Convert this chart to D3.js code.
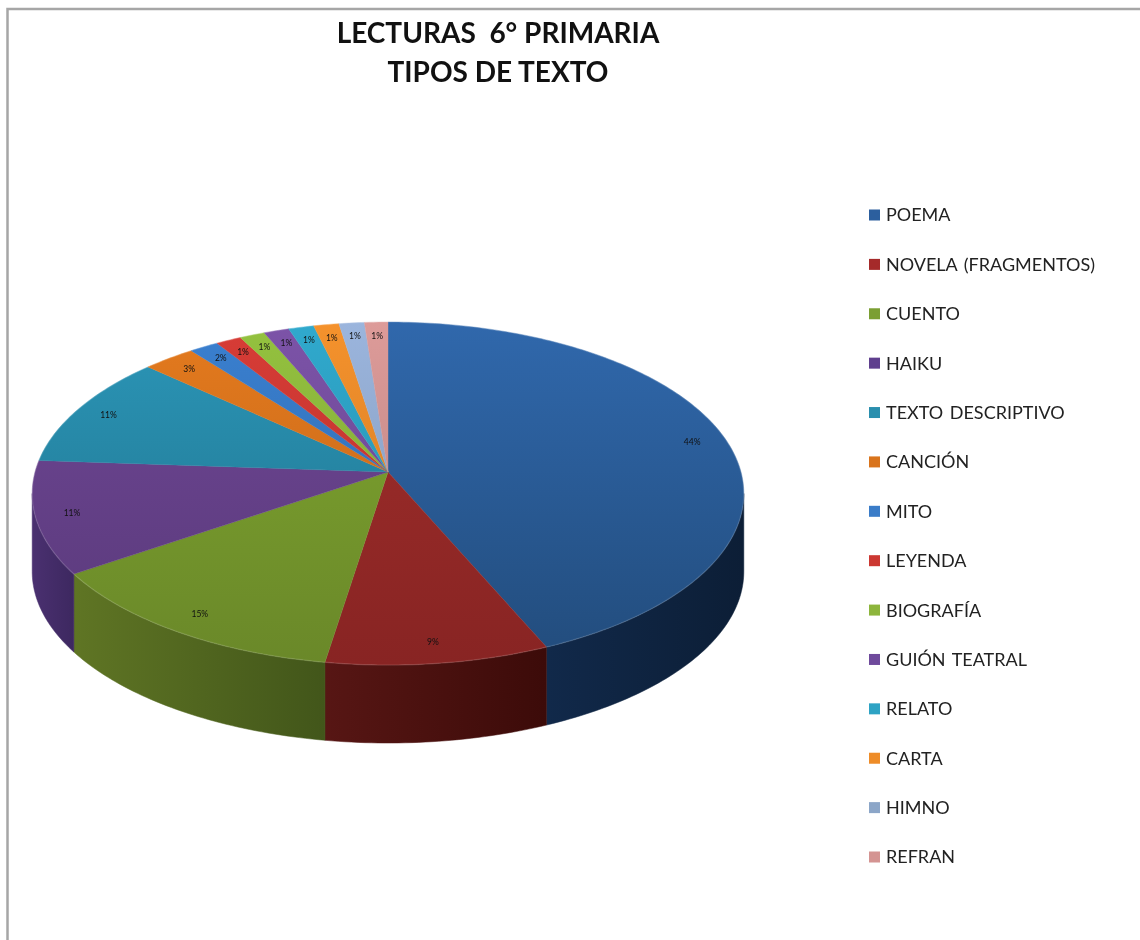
<!DOCTYPE html>
<html>
<head>
<meta charset="UTF-8" />
<title>Lecturas 6° primaria</title>
<script src="https://d3js.org/d3.v7.min.js"></script>
<style>
html, body { margin: 0; padding: 0; background: #fff; overflow: hidden; }
svg { display: block; filter: blur(0.6px); }
text { font-family: Lato, "Open Sans", sans-serif; }
</style>
</head>
<body>
<svg id="chart" width="1140" height="940"></svg>
<script>
var categories = ["POEMA", "NOVELA (FRAGMENTOS)", "CUENTO", "HAIKU", "TEXTO DESCRIPTIVO", "CANCIÓN", "MITO", "LEYENDA", "BIOGRAFÍA", "GUIÓN TEATRAL", "RELATO", "CARTA", "HIMNO", "REFRAN"];
// slice sizes as measured on the picture
var values = [43.5, 9, 13, 10.6, 10.7, 2.7, 1.5, 1.3, 1.3, 1.3, 1.3, 1.3, 1.3, 1.2];
// labels as printed, they do not add up exactly to the drawn sizes
var labels = ["44%", "9%", "15%", "11%", "11%", "3%", "2%", "1%", "1%", "1%", "1%", "1%", "1%", "1%"];
var titleLines = ["LECTURAS  6° PRIMARIA", "TIPOS DE TEXTO"];

var topColors = ["#3068ac", "#a02e2b", "#7fa62f", "#6f4795", "#2b96b8", "#e47a1e", "#3a80d0", "#d83c36", "#94c23f", "#7c53a8", "#30a9cd", "#f5922c", "#9bb5dd", "#dd9b99"];
var bottomColors = ["#224c7c", "#882423", "#6a8829", "#59397a", "#1f7089", "#bd6418", "#2e66a8", "#b0302c", "#7a9e33", "#654388", "#268aa8", "#c87624", "#7e94b4", "#b47e7c"];
var sideLeft = ["#11294a", "#571614", "#5f7524", "#4a3070"];
var sideRight = ["#0c1e36", "#3c0b09", "#42561a", "#3d2860"];
var legendColors = ["#2c5f9e", "#a52a2a", "#7b9f33", "#5f3f8e", "#2a8fae", "#d9741c", "#3a7cc8", "#cc3832", "#8db53c", "#6f4a9c", "#2ea3c4", "#ee8c28", "#8ca6c8", "#d49492"];

var svg = d3.select("#chart");
var defs = svg.append("defs");

// chart frame
svg.append("path")
  .attr("d", "M7.5,940V9H1140")
  .attr("fill", "none")
  .attr("stroke", "#a6a6a6")
  .attr("stroke-width", 2.5);

// title
svg.append("g").selectAll("text").data(titleLines).enter().append("text")
  .attr("x", 498)
  .attr("y", function(d, i) { return 43 + i * 39; })
  .attr("text-anchor", "middle")
  .style("white-space", "pre")
  .attr("font-size", 28)
  .attr("font-weight", 700)
  .attr("fill", "#111")
  .text(function(d) { return d; });

// pie laid out with perspective: the apex sits above the centre of the ellipse
var apexX = 388, apexY = 472, spanX = 353, spanY = 168.8, tilt = 0.1255, depth = 78;

function project(angle, r) {
  var u = Math.sin(angle) * r, v = -Math.cos(angle) * r, w = 1 - tilt * v;
  return [apexX + spanX * u / w, apexY + spanY * v / w];
}

function arcPoints(a0, a1) {
  var n = Math.max(4, Math.ceil((a1 - a0) * 60)), pts = [];
  for (var i = 0; i <= n; i++) pts.push(project(a0 + (a1 - a0) * i / n, 1));
  return pts;
}

var line = d3.line();
var slices = d3.pie().sort(null)(values);

// the wall only shows between the two sideways extremes of the ellipse
var frontStart = Math.acos(-tilt), frontEnd = 2 * Math.PI - frontStart;

slices.forEach(function(d, i) {
  defs.append("linearGradient").attr("id", "top" + i)
    .attr("gradientUnits", "userSpaceOnUse")
    .attr("x1", 0).attr("x2", 0).attr("y1", 322).attr("y2", 665)
    .call(function(g) {
      g.append("stop").attr("offset", 0).attr("stop-color", topColors[i]);
      g.append("stop").attr("offset", 1).attr("stop-color", bottomColors[i]);
    });
});

var sides = svg.append("g");
slices.forEach(function(d, i) {
  var a0 = Math.max(d.startAngle, frontStart), a1 = Math.min(d.endAngle, frontEnd);
  if (a1 <= a0) return;
  var pts = arcPoints(a0, a1);
  var xs = d3.extent(pts, function(p) { return p[0]; });
  defs.append("linearGradient").attr("id", "side" + i)
    .attr("gradientUnits", "userSpaceOnUse")
    .attr("x1", xs[0]).attr("x2", xs[1]).attr("y1", 0).attr("y2", 0)
    .call(function(g) {
      g.append("stop").attr("offset", 0).attr("stop-color", sideLeft[i]);
      g.append("stop").attr("offset", 1).attr("stop-color", sideRight[i]);
    });
  var low = pts.slice().reverse().map(function(p) { return [p[0], p[1] + depth]; });
  sides.append("path")
    .attr("d", line(pts.concat(low)) + "Z")
    .attr("fill", "url(#side" + i + ")")
    .attr("stroke", "url(#side" + i + ")")
    .attr("stroke-width", 0.5);
});

var tops = svg.append("g");
slices.forEach(function(d, i) {
  var pts = arcPoints(d.startAngle, d.endAngle);
  tops.append("path")
    .attr("d", line([[apexX, apexY]].concat(pts)) + "Z")
    .attr("fill", "url(#top" + i + ")")
    .attr("stroke", "url(#top" + i + ")")
    .attr("stroke-width", 0.4);
  // light bevel along the rim
  tops.append("path")
    .attr("d", line(pts))
    .attr("fill", "none")
    .attr("stroke", "#fff")
    .attr("stroke-opacity", 0.1)
    .attr("stroke-width", 1.5);
});

// data labels
svg.append("g").selectAll("text").data(slices).enter().append("text")
  .attr("transform", function(d) {
    return "translate(" + project((d.startAngle + d.endAngle) / 2, 0.9) + ")";
  })
  .attr("dy", "0.35em")
  .attr("text-anchor", "middle")
  .attr("font-size", 8.5)
  .attr("fill", "#111")
  .text(function(d, i) { return labels[i]; });

// legend
var legendY = d3.scalePoint().domain(categories).range([215, 857]);
var legend = svg.append("g").selectAll("g").data(categories).enter().append("g")
  .attr("transform", function(d) { return "translate(869," + legendY(d) + ")"; });

legend.append("rect")
  .attr("x", 0).attr("y", -5.5).attr("width", 11).attr("height", 11)
  .attr("fill", function(d, i) { return legendColors[i]; });

legend.append("text")
  .attr("x", 17)
  .attr("dy", "0.36em")
  .attr("font-size", 18)
  .attr("word-spacing", 2)
  .attr("fill", "#222")
  .text(function(d) { return d; });
</script>
</body>
</html>
